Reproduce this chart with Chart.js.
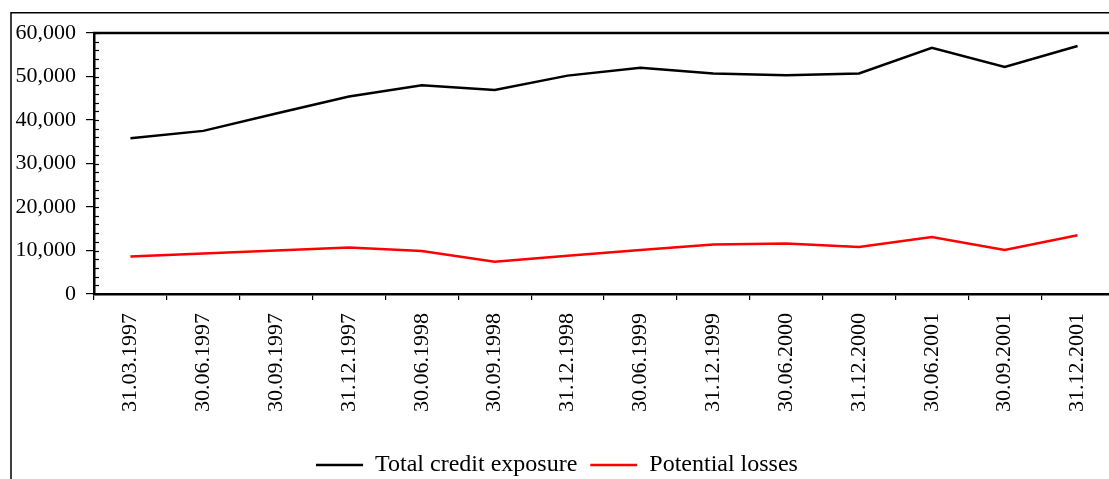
<!DOCTYPE html>
<html>
<head>
<meta charset="utf-8">
<script src="https://cdn.jsdelivr.net/npm/chart.js@4/dist/chart.umd.min.js"></script>
<style>
  html, body { margin: 0; padding: 0; background: #fff; overflow: hidden; width: 1109px; height: 479px; }
  #wrap { width: 1125px; height: 487px; }
</style>
</head>
<body>
<div id="wrap"><canvas id="c" width="1125" height="487"></canvas></div>
<script>
const categories = ["31.03.1997","30.06.1997","30.09.1997","31.12.1997","30.06.1998","30.09.1998","31.12.1998","30.06.1999","31.12.1999","30.06.2000","31.12.2000","30.06.2001","30.09.2001","31.12.2001"];
const totalCreditExposure = [35800, 37500, 41500, 45400, 48000, 46900, 50200, 52000, 50700, 50300, 50700, 56600, 52200, 57000];
const potentialLosses = [8600, 9300, 10000, 10700, 9900, 7400, 8800, 10100, 11400, 11600, 10800, 13100, 10100, 13500];
const yTicks = [0, 10000, 20000, 30000, 40000, 50000, 60000];
const seriesNames = ["Total credit exposure", "Potential losses"];

const FONT = "'Liberation Serif', 'Times New Roman', serif";

const decor = {
  id: 'decor',
  beforeDraw(chart) {
    const ctx = chart.ctx;
    ctx.save();
    ctx.strokeStyle = '#000';
    ctx.lineWidth = 1.5;
    ctx.strokeRect(11, 12.75, 3000, 3000);
    ctx.restore();
  },
  afterDraw(chart) {
    const ctx = chart.ctx;
    const a = chart.chartArea;
    const y = chart.scales.y;
    ctx.save();
    ctx.strokeStyle = '#000';
    ctx.lineWidth = 2.5;
    ctx.beginPath();
    ctx.moveTo(a.left - 1, a.top);
    ctx.lineTo(a.right, a.top);
    ctx.stroke();
    ctx.lineWidth = 1.2;
    for (let v = y.min; v <= y.max; v += 2000) {
      const py = Math.round(y.getPixelForValue(v)) + 0.5;
      ctx.beginPath();
      ctx.moveTo(a.left, py);
      ctx.lineTo(a.left + 5, py);
      ctx.stroke();
    }
    ctx.restore();
  }
};

new Chart(document.getElementById('c'), {
  type: 'line',
  data: {
    labels: categories,
    datasets: [
      { label: seriesNames[0], data: totalCreditExposure, borderColor: '#000', backgroundColor: '#000', borderWidth: 2.5, pointRadius: 0, tension: 0, pointStyle: 'line' },
      { label: seriesNames[1], data: potentialLosses, borderColor: '#ff0000', backgroundColor: '#ff0000', borderWidth: 2.5, pointRadius: 0, tension: 0, pointStyle: 'line' }
    ]
  },
  options: {
    responsive: false,
    devicePixelRatio: 1,
    animation: false,
    layout: { padding: { top: 33, right: 11, left: 0, bottom: 0 } },
    plugins: {
      legend: {
        position: 'bottom',
        labels: {
          usePointStyle: true,
          pointStyle: 'line',
          pointStyleWidth: 47,
          padding: 13,
          color: '#000',
          font: { family: FONT, size: 24 }
        }
      },
      tooltip: { enabled: false }
    },
    scales: {
      x: {
        offset: true,
        afterFit(scale) { scale.height = 146; },
        grid: { display: true, drawOnChartArea: false, offset: true, tickLength: 6, color: '#000', lineWidth: 1.2 },
        border: { display: true, color: '#000', width: 2.5 },
        ticks: { autoSkip: false, minRotation: 90, maxRotation: 90, padding: 13, color: '#000', font: { family: FONT, size: 22 } }
      },
      y: {
        min: 0,
        max: 60000,
        afterFit(scale) { scale.width = 94; },
        afterBuildTicks(scale) { scale.ticks = yTicks.map(v => ({ value: v })); },
        grid: { display: true, drawOnChartArea: false, tickLength: 8, color: '#000', lineWidth: 1.2 },
        border: { display: true, color: '#000', width: 2.5 },
        ticks: {
          padding: 10,
          color: '#000',
          font: { family: FONT, size: 22 },
          callback: v => v.toLocaleString('en-US')
        }
      }
    }
  },
  plugins: [decor]
});
</script>
</body>
</html>
